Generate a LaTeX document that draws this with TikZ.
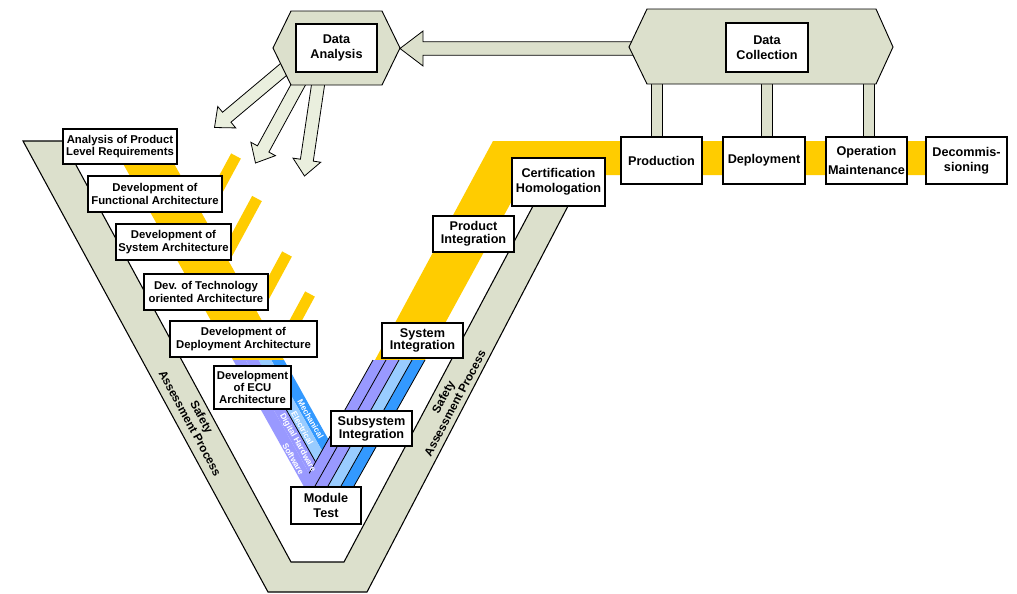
\documentclass[tikz,border=0pt]{standalone}
\usepackage{fontspec}
\setmainfont{Liberation Sans}
\usetikzlibrary{calc}

\definecolor{bandgrey}{RGB}{220,224,204}
\definecolor{arrowgrey}{RGB}{234,239,222}
\definecolor{vyellow}{RGB}{255,204,0}
\definecolor{vpurple}{RGB}{153,153,255}
\definecolor{vlightblue}{RGB}{153,204,255}
\definecolor{vblue}{RGB}{51,153,255}

% broad arrow: #1 style, #2 start, #3 tip, #4 shaft half width, #5 head half width, #6 head length
\newcommand\fatarrow[6]{%
  \coordinate (fa-h) at ($(#3)!#6!(#2)$);
  \filldraw[#1] ($(#2)!#4!90:(#3)$) -- ($(fa-h)!#4!90:(#3)$) -- ($(fa-h)!#5!90:(#3)$)
     -- (#3) -- ($(fa-h)!#5!-90:(#3)$) -- ($(fa-h)!#4!-90:(#3)$) -- ($(#2)!#4!-90:(#3)$) -- cycle;}

\begin{document}
\begin{tikzpicture}[x=0.75pt,y=-0.75pt,
  sz/.style 2 args={minimum width={#1*0.75pt}, minimum height={#2*0.75pt}},
  box/.style={draw=black, fill=white, line width=0.9pt, align=center, inner sep=0pt,
              font=\fontsize{8.5}{9.2}\selectfont\bfseries},
  bigbox/.style={box, font=\fontsize{9.5}{11.2}\selectfont\bfseries},
  tightbox/.style={box, font=\fontsize{9.5}{9.4}\selectfont\bfseries},
  band/.style={fill=bandgrey, draw=black, line width=0.8pt},
  hexa/.style={fill=bandgrey, draw=black, line width=0.7pt},
  farrow/.style={fill=arrowgrey, draw=black, line width=0.6pt},
  harrow/.style={fill=bandgrey, draw=black, line width=0.6pt},
  pillar/.style={draw=black, line width=0.7pt, double=bandgrey, double distance=7.9pt},
  sep/.style={draw=black, line width=0.6pt},
  disc/.style={text=white, inner sep=0pt, font=\fontsize{6.2}{6.2}\selectfont\bfseries, rotate=-60.75},
  sal/.style={align=center, inner sep=0pt, font=\fontsize{8.8}{10}\selectfont\bfseries}]

\path[use as bounding box, fill=white] (0,0) rectangle (1017,593);

% safety assessment band
\filldraw[band] (23,141) -- (63,141) -- (291,562) -- (344,562) -- (533,206) -- (568,206)
  -- (367,592) -- (268,592) -- cycle;

% yellow product stream
\fill[vyellow] (109.8,140) -- (160.8,140) -- (284,360) -- (233,360) -- cycle;
\fill[vyellow] (493,141) -- (960,141) -- (960,175) -- (526,175) -- (425,360) -- (375,360) -- cycle;
\fill[vyellow] (231.16,153.39) -- (240.84,158.61) -- (220,197.2) -- (214.1,185) -- cycle;
\fill[vyellow] (252.16,195.89) -- (261.84,201.11) -- (230.2,259.6) -- (229,238.9) -- cycle;
\fill[vyellow] (282.16,251.39) -- (291.84,256.61) -- (266,304.5) -- (266,281.3) -- cycle;
\fill[vyellow] (305.16,291.39) -- (314.84,296.61) -- (296.8,330) -- (284.3,330) -- cycle;

% discipline streams
\fill[vblue] (271.25,360) -- (347.9,496.9) -- (425,360) -- (412,360) -- (347.8,474) -- (284,360) -- cycle;
\fill[vlightblue] (258.5,360) -- (335.0,496.7) -- (412,360) -- (399,360) -- (334.95,473.8) -- (271.25,360) -- cycle;
\fill[vpurple] (245.75,360) -- (322.2,496.5) -- (399,360) -- (386,360) -- (322.1,473.5) -- (258.5,360) -- cycle;
\fill[vpurple] (233,360) -- (309.3,496.2) -- (386,360) -- (373,360) -- (309.2,473.3) -- (245.75,360) -- cycle;
\draw[sep] (373,360) -- (309.2,473.3);
\draw[sep] (386,360) -- (312.8,490);
\draw[sep] (399,360) -- (325.8,490);
\draw[sep] (412,360) -- (338.8,490);
\draw[sep] (425,360) -- (351.8,490);
\draw[sep] (283.1,404) -- (315.6,462);

\node[disc] (mech) at (310.6,419) {Mechanical};
\node[disc] (elec) at (302.4,428) {Electrical};
\node[disc] (dhw) at (297.6,443) {Digital Hardware};
\node[disc] (sw) at (293.3,459) {Software};

\node[sal, rotate=-61.5] (safl) at (196,420) {Safety\\Assessment Process};
\node[sal, rotate=62] (safr) at (449,400) {Safety\\Assessment Process};

% feedback arrows
\coordinate (daA) at (294.5,60.3);
\coordinate (daB) at (303.8,74.5);
\coordinate (daC) at (319.8,73);
\coordinate (tipA) at (214.5,127.5);
\coordinate (tipB) at (255.5,163);
\coordinate (tipC) at (304.5,176);
\coordinate (dcIn) at (645,48.5);
\coordinate (daE) at (400,48.5);
\fatarrow{farrow}{daA}{tipA}{4.875pt}{10.5pt}{12pt}
\fatarrow{farrow}{daB}{tipB}{4.875pt}{10.5pt}{12pt}
\fatarrow{farrow}{daC}{tipC}{4.875pt}{10.5pt}{12pt}
\fatarrow{harrow}{dcIn}{daE}{5pt}{13.1pt}{17.25pt}

% operation phase boxes
\node[bigbox, sz={81}{47}] (prod) at (661.5,160.5) {Production};
\node[bigbox, sz={82}{47}] (depl) at (764,160.5) {Deployment};
\node[bigbox, sz={81}{47}] (oper) at (866.5,160.5) {Operation\\[3.5pt]Maintenance};
\node[bigbox, sz={81}{47}] (decom) at (966.5,160.5) {Decommis-\\sioning};

\draw[pillar] ([xshift=-3.375pt]prod.north) -- ++(0,-55);
\draw[pillar] ([xshift=2.25pt]depl.north) -- ++(0,-55);
\draw[pillar] ([xshift=1.875pt]oper.north) -- ++(0,-55);

% hexagons
\filldraw[hexa] (273,48) -- (291,11) -- (382,11) -- (400,48) -- (382,85) -- (291,85) -- cycle;
\filldraw[hexa] (629,47) -- (647,9) -- (876,9) -- (893,47) -- (876,84) -- (647,84) -- cycle;
\node[bigbox, sz={82}{49}] (dc) at (767,47.5) {Data\\Collection};
\node[bigbox, sz={81}{48}] (da) at (336.5,48) {Data\\Analysis};

% operation phase boxes again, above the pillar ends
\node[bigbox, sz={81}{47}] at (prod) {Production};
\node[bigbox, sz={82}{47}] at (depl) {Deployment};
\node[bigbox, sz={81}{47}] at (oper) {Operation\\[3.5pt]Maintenance};

% development side
\node[box, sz={114}{35}] (ana) at (120,146.5) {Analysis of Product\\Level Requirements};
\node[box, sz={134}{36}] (fun) at (155,194) {Development of\\Functional Architecture};
\node[box, sz={115}{36}] (sysa) at (173.5,242) {Development of\\System Architecture};
\node[box, sz={124}{36}] (tech) at (206,292) {Dev. of Technology\\oriented Architecture};
\node[box, sz={147}{36}] (depa) at (243.5,339) {Development of\\Deployment Architecture};
\node[box, sz={77}{43}] (ecu) at (252.5,387.5) {Development\\of ECU\\Architecture};

% integration side
\node[bigbox, sz={70}{37}] (mod) at (326,505.5) {Module\\Test};
\node[tightbox, sz={81}{35}] (subi) at (371.5,428.5) {Subsystem\\Integration};
\node[tightbox, sz={81}{35}] (sysi) at (422.5,340.5) {System\\Integration};
\node[tightbox, sz={81}{36}] (prodi) at (473.5,234) {Product\\Integration};
\node[bigbox, sz={93}{48}] (cert) at (558.5,182) {Certification\\Homologation};
\end{tikzpicture}
\end{document}
